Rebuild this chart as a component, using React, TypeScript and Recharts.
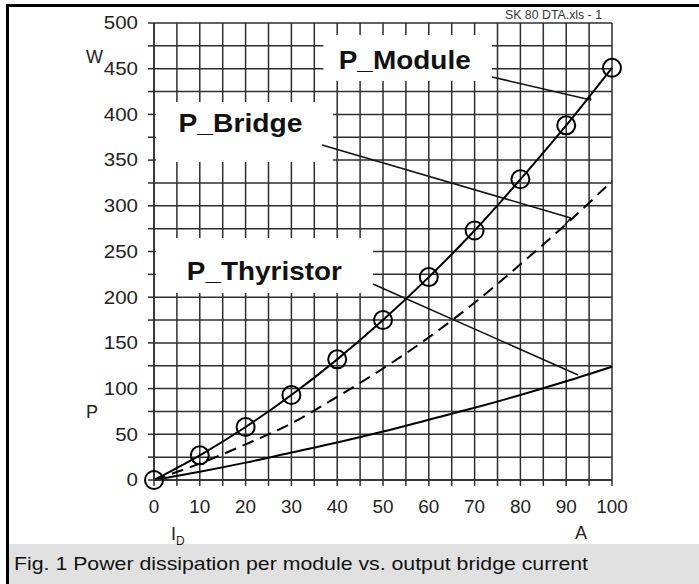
import { CartesianGrid, Line, LineChart, ReferenceArea, ReferenceLine, XAxis, YAxis } from "recharts"

// output bridge current I_D (A)
const current = [0, 10, 20, 30, 40, 50, 60, 70, 80, 90, 100]
// power dissipation (W)
const pModule = [0, 27, 58, 93, 132, 175, 222, 273, 329, 388, 451]
const pBridge = [0, 18, 39, 62, 91, 122, 156, 194, 236, 280, 327]
const pThyristor = [0, 9, 19, 30, 41, 53, 66, 79, 93, 108, 124]

const xTicks = [0, 5, 10, 15, 20, 25, 30, 35, 40, 45, 50, 55, 60, 65, 70, 75, 80, 85, 90, 95, 100]
const yTicks = [0, 25, 50, 75, 100, 125, 150, 175, 200, 225, 250, 275, 300, 325, 350, 375, 400, 425, 450, 475, 500]

const data = current.map((c, i) => ({
  current: c,
  module: pModule[i],
  bridge: pBridge[i],
  thyristor: pThyristor[i],
}))

const FONT = '"Liberation Sans", Arial, Helvetica, sans-serif'
const GRID = "#2e2e2e"

// the scan is a bit wider than Arial, so stretch the glyphs slightly
const XTick = (props: any) => {
  const { x, y, payload } = props
  if (payload.value % 10 !== 0) return null
  const s = String(payload.value)
  return (
    <text x={x} y={y} dy="0.71em" textAnchor="middle" fontSize={18} fill="#222" fontFamily={FONT}
      textLength={s.length * 10.5} lengthAdjust="spacingAndGlyphs">
      {s}
    </text>
  )
}

const YTick = (props: any) => {
  const { x, y, payload } = props
  if (payload.value % 50 !== 0) return null
  const s = String(payload.value)
  return (
    <text x={x} y={y} dy="0.355em" textAnchor="end" fontSize={18} fill="#222" fontFamily={FONT}
      textLength={s.length * 11.4} lengthAdjust="spacingAndGlyphs">
      {s}
    </text>
  )
}

const boxLabel = (text: string, dx: number, dy: number, len: number) => (props: any) => {
  const vb = props.viewBox
  return (
    <text
      x={vb.x + vb.width / 2 + dx}
      y={vb.y + vb.height / 2 + dy}
      dy="0.355em"
      textAnchor="middle"
      fontSize={26}
      fontWeight="bold"
      fill="#111"
      fontFamily={FONT}
      textLength={len}
      lengthAdjust="spacingAndGlyphs"
    >
      {text}
    </text>
  )
}

const App = () => {
  return (
    <div style={{ position: "absolute", left: 0, top: 0, width: 699, height: 584, background: "#fff", fontFamily: FONT }}>
      <LineChart width={699} height={584} data={data} margin={{ top: 23, right: 87, bottom: 64, left: 0 }}>
        <CartesianGrid stroke={GRID} strokeWidth={1.5} />
        <XAxis
          dataKey="current"
          type="number"
          domain={[0, 100]}
          ticks={xTicks}
          interval={0}
          height={40}
          tickSize={6}
          tickMargin={14}
          tick={<XTick />}
          axisLine={{ stroke: GRID, strokeWidth: 1.5 }}
          tickLine={{ stroke: GRID, strokeWidth: 1.5 }}
        />
        <YAxis
          type="number"
          domain={[0, 500]}
          ticks={yTicks}
          interval={0}
          width={154}
          tickSize={6}
          tickMargin={10}
          tick={<YTick />}
          axisLine={{ stroke: GRID, strokeWidth: 1.5 }}
          tickLine={{ stroke: GRID, strokeWidth: 1.5 }}
        />

        {/* white label boxes over the grid */}
        <ReferenceArea x1={37} x2={73.8} y1={436.5} y2={487} fill="#fff" fillOpacity={1} stroke="none" ifOverflow="visible" label={boxLabel("P_Module", -3, 2, 132)} />
        <ReferenceArea x1={0.4} x2={39.1} y1={348} y2={413.6} fill="#fff" fillOpacity={1} stroke="none" ifOverflow="visible" label={boxLabel("P_Bridge", -4, -9, 124)} />
        <ReferenceArea x1={0.4} x2={47.8} y1={204.6} y2={264.8} fill="#fff" fillOpacity={1} stroke="none" ifOverflow="visible" label={boxLabel("P_Thyristor", 0, 5, 155)} />

        {/* leader lines */}
        <ReferenceLine segment={[{ x: 73.8, y: 441 }, { x: 95.4, y: 415.8 }]} stroke="#111" strokeWidth={1.5} />
        <ReferenceLine segment={[{ x: 95.4, y: 415.8 }, { x: 95.0, y: 421 }]} stroke="#111" strokeWidth={1.5} />
        <ReferenceLine segment={[{ x: 36.7, y: 366.5 }, { x: 91.0, y: 286.7 }]} stroke="#111" strokeWidth={1.5} />
        <ReferenceLine segment={[{ x: 91.0, y: 286.7 }, { x: 89.7, y: 279 }]} stroke="#111" strokeWidth={1.5} />
        <ReferenceLine segment={[{ x: 47.8, y: 214.4 }, { x: 92.6, y: 114.9 }]} stroke="#111" strokeWidth={1.5} />

        <Line
          dataKey="thyristor"
          type="monotone"
          stroke="#000"
          strokeWidth={2}
          dot={false}
          isAnimationActive={false}
        />
        <Line
          dataKey="bridge"
          type="monotone"
          stroke="#000"
          strokeWidth={2}
          strokeDasharray="12 7"
          dot={false}
          isAnimationActive={false}
        />
        <Line
          dataKey="module"
          type="monotone"
          stroke="#000"
          strokeWidth={2}
          dot={{ r: 9, stroke: "#000", strokeWidth: 2, fill: "none" }}
          isAnimationActive={false}
        />
      </LineChart>

      <svg width={699} height={584} style={{ position: "absolute", left: 0, top: 0, pointerEvents: "none" }}>
        {/* frame */}
        <rect x={6} y={4} width={693} height={3} fill="#000" />
        <rect x={6} y={4} width={3} height={580} fill="#000" />
        {/* caption band */}
        <rect x={9} y={544} width={690} height={40} fill="#e1e1e1" />
        <text x={14} y={570} fontSize={19} fill="#111" fontFamily={FONT} textLength={574} lengthAdjust="spacingAndGlyphs">
          Fig. 1 Power dissipation per module vs. output bridge current
        </text>

        <text x={505} y={19} fontSize={12.5} fill="#333" fontFamily={FONT} textLength={97} lengthAdjust="spacingAndGlyphs">SK 80 DTA.xls - 1</text>
        <text x={86} y={63} fontSize={18} fill="#222" fontFamily={FONT}>W</text>
        <text x={86} y={418} fontSize={18} fill="#222" fontFamily={FONT}>P</text>
        <text x={171} y={540} fontSize={18} fill="#222" fontFamily={FONT}>I</text>
        <text x={176} y={545} fontSize={12} fill="#222" fontFamily={FONT}>D</text>
        <text x={575} y={539} fontSize={18} fill="#222" fontFamily={FONT}>A</text>
      </svg>
    </div>
  )
}

export default App
